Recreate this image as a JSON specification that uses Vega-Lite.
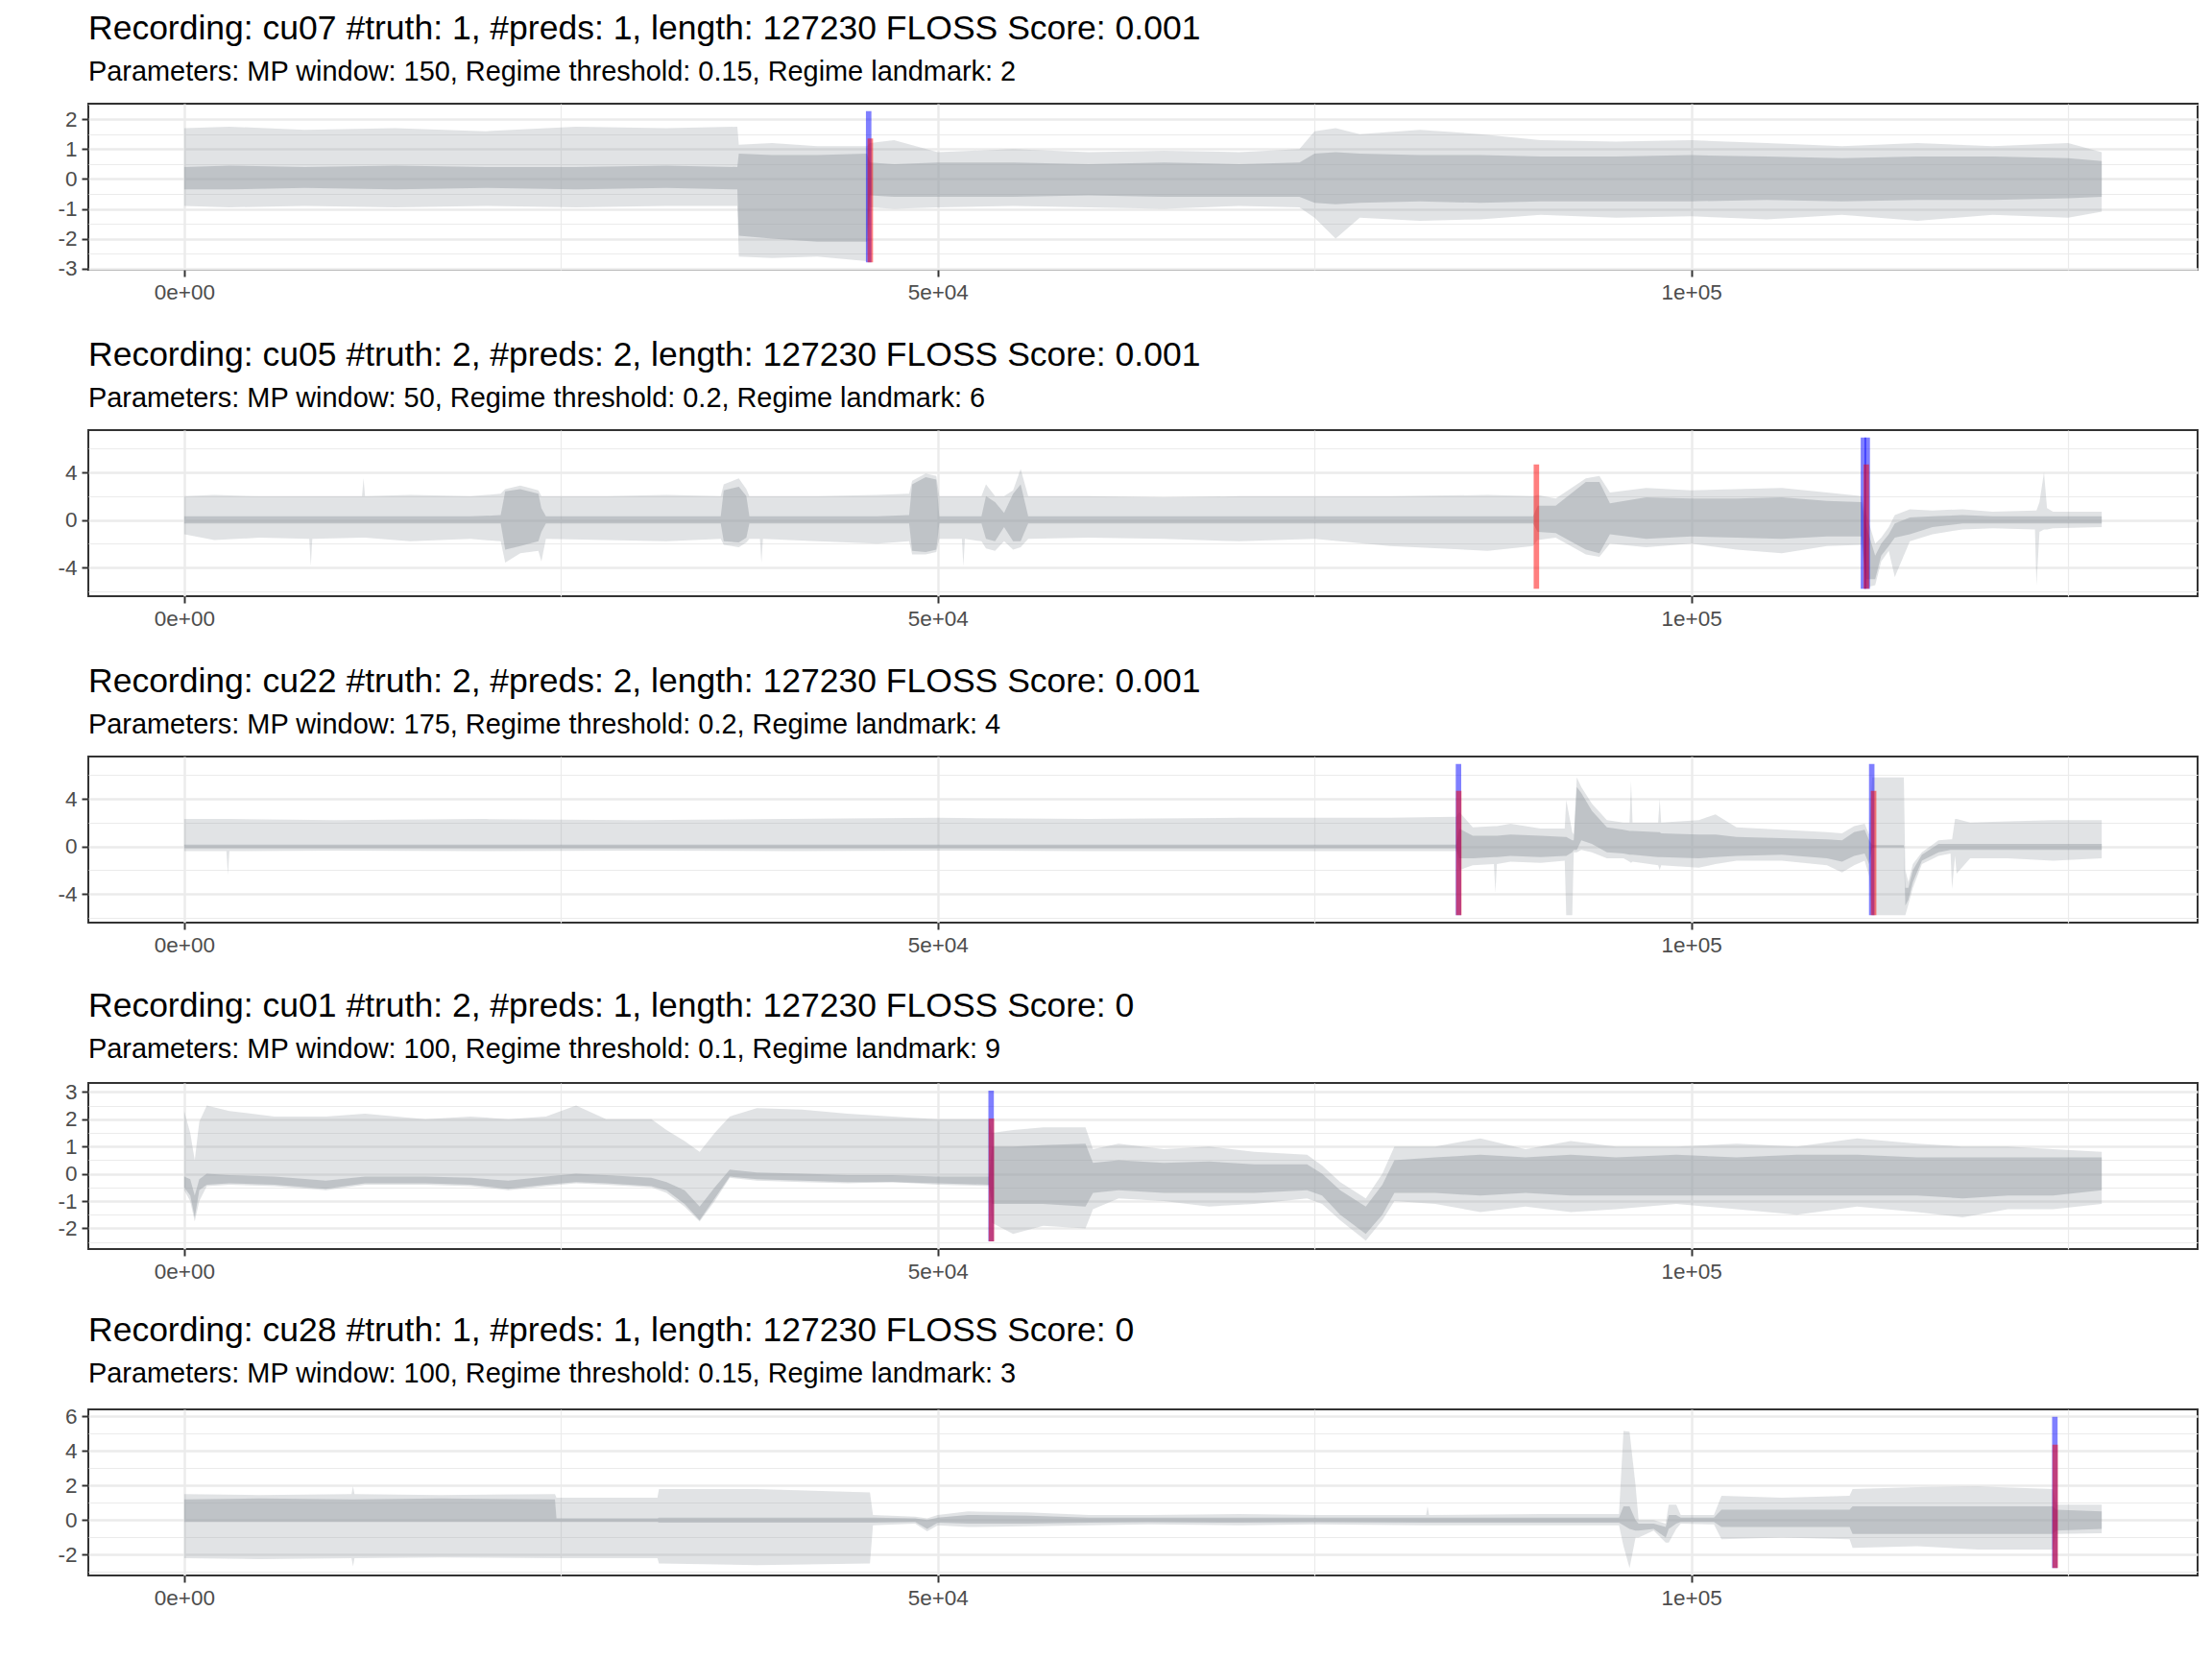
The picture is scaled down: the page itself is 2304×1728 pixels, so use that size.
{
"$schema": "https://vega.github.io/schema/vega-lite/v6.json",
"padding": {"left": 58, "top": 11, "right": 10, "bottom": 10},
"background": "white",
"bounds": "flush",
"spacing": 167,
"config": {
  "font": "Liberation Sans",
  "view": {"stroke": "#333333", "strokeWidth": 2},
  "axis": {"domain": false, "labelFont": "Liberation Sans", "labelFontSize": 22.5, "labelColor": "#4d4d4d", "tickColor": "#333333", "tickWidth": 2, "tickSize": 7, "labelPadding": 5, "gridColor": "#ebebeb", "gridWidth": 2.4, "titlePadding": 0, "labelOverlap": false, "labelBound": false, "labelFlush": false},
  "title": {"font": "Liberation Sans", "fontSize": 35.5, "fontWeight": "normal", "color": "#000000", "subtitleFont": "Liberation Sans", "subtitleFontSize": 28.9, "subtitleColor": "#000000", "anchor": "start", "frame": "group", "offset": 18, "subtitlePadding": 13}
},
"datasets": {
"sig": [
{"p":1,"x":0,"lo":-0.9,"hi":1.7,"blo":-0.35,"bhi":0.4},
{"p":1,"x":3000,"lo":-0.95,"hi":1.75,"blo":-0.35,"bhi":0.45},
{"p":1,"x":8000,"lo":-0.9,"hi":1.65,"blo":-0.3,"bhi":0.4},
{"p":1,"x":14000,"lo":-0.95,"hi":1.7,"blo":-0.35,"bhi":0.45},
{"p":1,"x":20000,"lo":-0.9,"hi":1.6,"blo":-0.3,"bhi":0.4},
{"p":1,"x":26000,"lo":-0.95,"hi":1.75,"blo":-0.35,"bhi":0.4},
{"p":1,"x":32000,"lo":-0.9,"hi":1.7,"blo":-0.3,"bhi":0.45},
{"p":1,"x":36700,"lo":-0.9,"hi":1.75,"blo":-0.35,"bhi":0.4},
{"p":1,"x":36800,"lo":-2.6,"hi":1.15,"blo":-1.9,"bhi":0.85},
{"p":1,"x":39000,"lo":-2.65,"hi":1.2,"blo":-2.0,"bhi":0.8},
{"p":1,"x":42000,"lo":-2.6,"hi":1.1,"blo":-2.1,"bhi":0.8},
{"p":1,"x":45300,"lo":-2.75,"hi":1.1,"blo":-2.1,"bhi":0.85},
{"p":1,"x":45500,"lo":-0.95,"hi":1.2,"blo":-0.55,"bhi":0.55},
{"p":1,"x":47100,"lo":-1.0,"hi":1.3,"blo":-0.6,"bhi":0.5},
{"p":1,"x":50000,"lo":-0.95,"hi":0.9,"blo":-0.6,"bhi":0.55},
{"p":1,"x":55000,"lo":-0.9,"hi":1.0,"blo":-0.6,"bhi":0.55},
{"p":1,"x":60000,"lo":-0.95,"hi":0.9,"blo":-0.55,"bhi":0.5},
{"p":1,"x":65000,"lo":-1.0,"hi":0.95,"blo":-0.6,"bhi":0.55},
{"p":1,"x":70000,"lo":-0.9,"hi":0.9,"blo":-0.6,"bhi":0.5},
{"p":1,"x":74000,"lo":-0.95,"hi":1.0,"blo":-0.6,"bhi":0.55},
{"p":1,"x":75000,"lo":-1.3,"hi":1.6,"blo":-0.8,"bhi":0.85},
{"p":1,"x":76400,"lo":-2.0,"hi":1.7,"blo":-0.85,"bhi":0.9},
{"p":1,"x":78000,"lo":-1.3,"hi":1.5,"blo":-0.8,"bhi":0.85},
{"p":1,"x":82000,"lo":-1.4,"hi":1.65,"blo":-0.75,"bhi":0.8},
{"p":1,"x":86000,"lo":-1.35,"hi":1.5,"blo":-0.8,"bhi":0.8},
{"p":1,"x":90000,"lo":-1.2,"hi":1.3,"blo":-0.75,"bhi":0.75},
{"p":1,"x":95000,"lo":-1.3,"hi":1.25,"blo":-0.75,"bhi":0.75},
{"p":1,"x":100000,"lo":-1.25,"hi":1.3,"blo":-0.75,"bhi":0.8},
{"p":1,"x":105000,"lo":-1.35,"hi":1.2,"blo":-0.7,"bhi":0.75},
{"p":1,"x":110000,"lo":-1.2,"hi":1.1,"blo":-0.75,"bhi":0.7},
{"p":1,"x":115000,"lo":-1.4,"hi":1.2,"blo":-0.7,"bhi":0.75},
{"p":1,"x":120000,"lo":-1.2,"hi":1.1,"blo":-0.7,"bhi":0.75},
{"p":1,"x":125000,"lo":-1.3,"hi":1.2,"blo":-0.65,"bhi":0.7},
{"p":1,"x":127230,"lo":-1.1,"hi":0.9,"blo":-0.6,"bhi":0.6},

{"p":2,"x":0,"lo":-1.2,"hi":2.0,"blo":-0.3,"bhi":0.3},
{"p":2,"x":2000,"lo":-1.7,"hi":2.1,"blo":-0.3,"bhi":0.3},
{"p":2,"x":5000,"lo":-1.5,"hi":2.0,"blo":-0.3,"bhi":0.3},
{"p":2,"x":8300,"lo":-1.6,"hi":2.0,"blo":-0.3,"bhi":0.3},
{"p":2,"x":8400,"lo":-3.9,"hi":2.0,"blo":-0.3,"bhi":0.3},
{"p":2,"x":8500,"lo":-1.6,"hi":2.0,"blo":-0.3,"bhi":0.3},
{"p":2,"x":11800,"lo":-1.5,"hi":2.0,"blo":-0.3,"bhi":0.3},
{"p":2,"x":11900,"lo":-1.5,"hi":3.5,"blo":-0.3,"bhi":0.3},
{"p":2,"x":12000,"lo":-1.5,"hi":2.0,"blo":-0.3,"bhi":0.3},
{"p":2,"x":15000,"lo":-1.8,"hi":2.1,"blo":-0.3,"bhi":0.3},
{"p":2,"x":19000,"lo":-1.6,"hi":2.0,"blo":-0.3,"bhi":0.3},
{"p":2,"x":21000,"lo":-1.8,"hi":2.2,"blo":-0.3,"bhi":0.4},
{"p":2,"x":21300,"lo":-3.6,"hi":2.6,"blo":-2.5,"bhi":2.4},
{"p":2,"x":22300,"lo":-2.8,"hi":2.9,"blo":-2.2,"bhi":2.6},
{"p":2,"x":23500,"lo":-2.6,"hi":2.5,"blo":-1.8,"bhi":2.2},
{"p":2,"x":23700,"lo":-3.5,"hi":2.0,"blo":-1.0,"bhi":1.0},
{"p":2,"x":24000,"lo":-1.6,"hi":2.0,"blo":-0.3,"bhi":0.3},
{"p":2,"x":28000,"lo":-1.7,"hi":2.0,"blo":-0.3,"bhi":0.3},
{"p":2,"x":32000,"lo":-1.8,"hi":2.1,"blo":-0.3,"bhi":0.3},
{"p":2,"x":35600,"lo":-1.6,"hi":2.0,"blo":-0.3,"bhi":0.3},
{"p":2,"x":35800,"lo":-2.1,"hi":3.0,"blo":-1.8,"bhi":2.5},
{"p":2,"x":36800,"lo":-2.3,"hi":3.5,"blo":-1.9,"bhi":2.8},
{"p":2,"x":37300,"lo":-1.9,"hi":2.6,"blo":-1.5,"bhi":2.0},
{"p":2,"x":37500,"lo":-1.6,"hi":2.0,"blo":-0.3,"bhi":0.3},
{"p":2,"x":38200,"lo":-1.6,"hi":2.0,"blo":-0.3,"bhi":0.3},
{"p":2,"x":38300,"lo":-3.6,"hi":2.0,"blo":-0.3,"bhi":0.3},
{"p":2,"x":38400,"lo":-1.6,"hi":2.0,"blo":-0.3,"bhi":0.3},
{"p":2,"x":42000,"lo":-1.8,"hi":2.0,"blo":-0.3,"bhi":0.3},
{"p":2,"x":46000,"lo":-2.0,"hi":2.1,"blo":-0.3,"bhi":0.3},
{"p":2,"x":48100,"lo":-1.8,"hi":2.2,"blo":-0.3,"bhi":0.4},
{"p":2,"x":48300,"lo":-2.9,"hi":3.3,"blo":-2.6,"bhi":3.0},
{"p":2,"x":49200,"lo":-2.9,"hi":3.9,"blo":-2.7,"bhi":3.6},
{"p":2,"x":49900,"lo":-2.7,"hi":3.7,"blo":-2.5,"bhi":3.4},
{"p":2,"x":50100,"lo":-1.6,"hi":2.0,"blo":-0.3,"bhi":0.3},
{"p":2,"x":51600,"lo":-1.6,"hi":2.0,"blo":-0.3,"bhi":0.3},
{"p":2,"x":51700,"lo":-3.9,"hi":2.0,"blo":-0.3,"bhi":0.3},
{"p":2,"x":51800,"lo":-1.6,"hi":2.0,"blo":-0.3,"bhi":0.3},
{"p":2,"x":52900,"lo":-1.8,"hi":2.0,"blo":-0.3,"bhi":0.3},
{"p":2,"x":53200,"lo":-2.4,"hi":3.0,"blo":-1.6,"bhi":2.0},
{"p":2,"x":53800,"lo":-2.6,"hi":2.0,"blo":-1.8,"bhi":1.5},
{"p":2,"x":54400,"lo":-1.8,"hi":2.0,"blo":-0.6,"bhi":0.6},
{"p":2,"x":55000,"lo":-2.5,"hi":2.5,"blo":-1.8,"bhi":2.2},
{"p":2,"x":55500,"lo":-2.3,"hi":4.3,"blo":-1.8,"bhi":3.0},
{"p":2,"x":56000,"lo":-1.6,"hi":2.0,"blo":-0.3,"bhi":0.3},
{"p":2,"x":60000,"lo":-1.5,"hi":2.0,"blo":-0.3,"bhi":0.3},
{"p":2,"x":65000,"lo":-1.6,"hi":1.9,"blo":-0.3,"bhi":0.3},
{"p":2,"x":70000,"lo":-1.8,"hi":2.0,"blo":-0.3,"bhi":0.3},
{"p":2,"x":75000,"lo":-1.6,"hi":2.0,"blo":-0.3,"bhi":0.3},
{"p":2,"x":80000,"lo":-2.2,"hi":2.0,"blo":-0.3,"bhi":0.3},
{"p":2,"x":86500,"lo":-2.6,"hi":2.1,"blo":-0.3,"bhi":0.3},
{"p":2,"x":89500,"lo":-2.2,"hi":2.0,"blo":-0.3,"bhi":0.3},
{"p":2,"x":89800,"lo":-1.7,"hi":2.1,"blo":-1.0,"bhi":1.2},
{"p":2,"x":91000,"lo":-1.5,"hi":1.8,"blo":-1.1,"bhi":1.2},
{"p":2,"x":93000,"lo":-2.9,"hi":3.5,"blo":-2.5,"bhi":3.2},
{"p":2,"x":93900,"lo":-3.1,"hi":3.7,"blo":-2.8,"bhi":3.2},
{"p":2,"x":94600,"lo":-2.0,"hi":2.3,"blo":-1.2,"bhi":1.4},
{"p":2,"x":97000,"lo":-2.3,"hi":2.7,"blo":-1.6,"bhi":1.9},
{"p":2,"x":100000,"lo":-2.0,"hi":2.5,"blo":-1.4,"bhi":1.8},
{"p":2,"x":103000,"lo":-2.5,"hi":2.6,"blo":-1.5,"bhi":1.8},
{"p":2,"x":106000,"lo":-2.8,"hi":2.7,"blo":-1.6,"bhi":1.9},
{"p":2,"x":109000,"lo":-2.2,"hi":2.3,"blo":-1.4,"bhi":1.6},
{"p":2,"x":111300,"lo":-2.1,"hi":2.0,"blo":-1.4,"bhi":1.5},
{"p":2,"x":111600,"lo":-5.7,"hi":0.5,"blo":-5.0,"bhi":-0.5},
{"p":2,"x":112200,"lo":-5.5,"hi":-2.0,"blo":-5.0,"bhi":-3.0},
{"p":2,"x":112600,"lo":-3.5,"hi":-1.5,"blo":-3.0,"bhi":-2.0},
{"p":2,"x":113100,"lo":-2.6,"hi":-0.6,"blo":-2.2,"bhi":-1.2},
{"p":2,"x":113500,"lo":-4.8,"hi":0.4,"blo":-1.5,"bhi":-0.3},
{"p":2,"x":114500,"lo":-1.8,"hi":0.9,"blo":-1.2,"bhi":0.2},
{"p":2,"x":116000,"lo":-1.2,"hi":0.8,"blo":-0.6,"bhi":0.3},
{"p":2,"x":118000,"lo":-0.8,"hi":0.9,"blo":-0.3,"bhi":0.4},
{"p":2,"x":120000,"lo":-0.7,"hi":0.7,"blo":-0.3,"bhi":0.3},
{"p":2,"x":122800,"lo":-0.8,"hi":0.8,"blo":-0.3,"bhi":0.3},
{"p":2,"x":122900,"lo":-5.5,"hi":0.8,"blo":-0.3,"bhi":0.3},
{"p":2,"x":123100,"lo":-1.0,"hi":1.5,"blo":-0.3,"bhi":0.3},
{"p":2,"x":123400,"lo":-0.8,"hi":4.0,"blo":-0.3,"bhi":0.3},
{"p":2,"x":123600,"lo":-0.8,"hi":1.0,"blo":-0.3,"bhi":0.3},
{"p":2,"x":124000,"lo":-0.7,"hi":0.7,"blo":-0.3,"bhi":0.3},
{"p":2,"x":127230,"lo":-0.6,"hi":0.7,"blo":-0.3,"bhi":0.3},

{"p":3,"x":0,"lo":-0.4,"hi":2.3,"blo":-0.15,"bhi":0.15},
{"p":3,"x":2800,"lo":-0.4,"hi":2.3,"blo":-0.15,"bhi":0.15},
{"p":3,"x":2900,"lo":-2.4,"hi":2.3,"blo":-0.15,"bhi":0.15},
{"p":3,"x":3000,"lo":-0.4,"hi":2.3,"blo":-0.15,"bhi":0.15},
{"p":3,"x":10000,"lo":-0.35,"hi":2.2,"blo":-0.15,"bhi":0.15},
{"p":3,"x":20000,"lo":-0.4,"hi":2.3,"blo":-0.15,"bhi":0.15},
{"p":3,"x":30000,"lo":-0.35,"hi":2.2,"blo":-0.15,"bhi":0.15},
{"p":3,"x":40000,"lo":-0.4,"hi":2.3,"blo":-0.15,"bhi":0.15},
{"p":3,"x":50000,"lo":-0.35,"hi":2.4,"blo":-0.15,"bhi":0.15},
{"p":3,"x":60000,"lo":-0.4,"hi":2.3,"blo":-0.15,"bhi":0.15},
{"p":3,"x":70000,"lo":-0.4,"hi":2.4,"blo":-0.15,"bhi":0.15},
{"p":3,"x":80000,"lo":-0.4,"hi":2.4,"blo":-0.15,"bhi":0.15},
{"p":3,"x":84400,"lo":-0.4,"hi":2.5,"blo":-0.15,"bhi":0.15},
{"p":3,"x":84600,"lo":-2.0,"hi":2.9,"blo":-1.0,"bhi":1.5},
{"p":3,"x":85500,"lo":-1.6,"hi":1.6,"blo":-1.0,"bhi":0.9},
{"p":3,"x":86900,"lo":-1.5,"hi":1.7,"blo":-0.9,"bhi":0.9},
{"p":3,"x":87000,"lo":-3.9,"hi":1.7,"blo":-0.9,"bhi":0.9},
{"p":3,"x":87100,"lo":-1.5,"hi":1.7,"blo":-0.9,"bhi":0.9},
{"p":3,"x":88000,"lo":-1.3,"hi":1.9,"blo":-0.8,"bhi":1.0},
{"p":3,"x":90000,"lo":-1.4,"hi":1.5,"blo":-0.9,"bhi":0.9},
{"p":3,"x":91600,"lo":-1.2,"hi":1.5,"blo":-0.8,"bhi":0.8},
{"p":3,"x":91700,"lo":-5.8,"hi":3.9,"blo":-0.8,"bhi":0.8},
{"p":3,"x":92100,"lo":-5.8,"hi":1.2,"blo":-0.5,"bhi":0.5},
{"p":3,"x":92200,"lo":-0.5,"hi":1.0,"blo":-0.3,"bhi":0.5},
{"p":3,"x":92400,"lo":-0.5,"hi":5.8,"blo":-0.3,"bhi":5.0},
{"p":3,"x":92700,"lo":-0.3,"hi":5.0,"blo":0.5,"bhi":4.5},
{"p":3,"x":93400,"lo":-0.5,"hi":3.6,"blo":0.2,"bhi":3.0},
{"p":3,"x":94400,"lo":-1.0,"hi":2.2,"blo":-0.5,"bhi":1.6},
{"p":3,"x":95500,"lo":-1.0,"hi":2.0,"blo":-0.6,"bhi":1.4},
{"p":3,"x":95900,"lo":-1.3,"hi":2.0,"blo":-0.7,"bhi":1.3},
{"p":3,"x":96000,"lo":-1.4,"hi":5.5,"blo":-0.7,"bhi":1.3},
{"p":3,"x":96100,"lo":-1.3,"hi":2.0,"blo":-0.7,"bhi":1.3},
{"p":3,"x":97800,"lo":-1.6,"hi":2.0,"blo":-0.9,"bhi":1.2},
{"p":3,"x":97900,"lo":-2.0,"hi":4.0,"blo":-0.9,"bhi":1.2},
{"p":3,"x":98000,"lo":-1.6,"hi":2.0,"blo":-0.9,"bhi":1.1},
{"p":3,"x":100500,"lo":-1.8,"hi":2.2,"blo":-1.0,"bhi":1.0},
{"p":3,"x":101600,"lo":-1.5,"hi":2.7,"blo":-0.9,"bhi":1.0},
{"p":3,"x":103000,"lo":-1.2,"hi":1.6,"blo":-0.8,"bhi":0.8},
{"p":3,"x":106000,"lo":-1.2,"hi":1.4,"blo":-0.7,"bhi":0.7},
{"p":3,"x":109000,"lo":-1.6,"hi":1.2,"blo":-1.0,"bhi":0.6},
{"p":3,"x":110000,"lo":-2.2,"hi":1.1,"blo":-1.3,"bhi":0.5},
{"p":3,"x":110800,"lo":-1.6,"hi":1.7,"blo":-0.8,"bhi":1.2},
{"p":3,"x":111500,"lo":-1.2,"hi":1.9,"blo":-0.6,"bhi":1.4},
{"p":3,"x":111800,"lo":-2.5,"hi":1.0,"blo":-1.5,"bhi":0.5},
{"p":3,"x":112000,"lo":-5.8,"hi":5.8,"blo":-0.1,"bhi":0.1},
{"p":3,"x":114100,"lo":-5.8,"hi":5.8,"blo":-0.1,"bhi":0.1},
{"p":3,"x":114200,"lo":-5.8,"hi":-2.0,"blo":-5.0,"bhi":-3.5},
{"p":3,"x":114400,"lo":-4.9,"hi":-3.0,"blo":-4.5,"bhi":-3.5},
{"p":3,"x":114700,"lo":-3.5,"hi":-1.5,"blo":-3.0,"bhi":-2.0},
{"p":3,"x":115300,"lo":-1.5,"hi":-0.5,"blo":-1.2,"bhi":-0.7},
{"p":3,"x":116400,"lo":-0.8,"hi":0.5,"blo":-0.5,"bhi":0.2},
{"p":3,"x":117200,"lo":-0.6,"hi":0.6,"blo":-0.3,"bhi":0.2},
{"p":3,"x":117300,"lo":-3.6,"hi":0.6,"blo":-0.3,"bhi":0.2},
{"p":3,"x":117500,"lo":-0.8,"hi":2.3,"blo":-0.3,"bhi":0.2},
{"p":3,"x":117600,"lo":-2.3,"hi":2.3,"blo":-0.3,"bhi":0.2},
{"p":3,"x":118500,"lo":-1.0,"hi":2.0,"blo":-0.3,"bhi":0.2},
{"p":3,"x":121000,"lo":-1.0,"hi":2.1,"blo":-0.3,"bhi":0.2},
{"p":3,"x":124000,"lo":-1.2,"hi":2.2,"blo":-0.3,"bhi":0.2},
{"p":3,"x":127230,"lo":-1.0,"hi":2.2,"blo":-0.3,"bhi":0.2},

{"p":4,"x":0,"lo":-0.6,"hi":2.3,"blo":-0.5,"bhi":-0.1},
{"p":4,"x":400,"lo":-1.0,"hi":1.5,"blo":-0.8,"bhi":-0.2},
{"p":4,"x":700,"lo":-1.75,"hi":0.5,"blo":-1.6,"bhi":-0.8},
{"p":4,"x":1000,"lo":-1.0,"hi":1.9,"blo":-0.6,"bhi":-0.2},
{"p":4,"x":1500,"lo":-0.45,"hi":2.5,"blo":-0.4,"bhi":0.0},
{"p":4,"x":3000,"lo":-0.4,"hi":2.3,"blo":-0.35,"bhi":-0.05},
{"p":4,"x":6000,"lo":-0.45,"hi":2.1,"blo":-0.4,"bhi":-0.1},
{"p":4,"x":9400,"lo":-0.6,"hi":2.1,"blo":-0.55,"bhi":-0.25},
{"p":4,"x":12000,"lo":-0.4,"hi":2.2,"blo":-0.35,"bhi":-0.1},
{"p":4,"x":16000,"lo":-0.4,"hi":2.0,"blo":-0.35,"bhi":-0.1},
{"p":4,"x":19000,"lo":-0.45,"hi":2.1,"blo":-0.4,"bhi":-0.15},
{"p":4,"x":21500,"lo":-0.6,"hi":2.0,"blo":-0.55,"bhi":-0.25},
{"p":4,"x":24000,"lo":-0.45,"hi":2.1,"blo":-0.4,"bhi":-0.1},
{"p":4,"x":26000,"lo":-0.35,"hi":2.5,"blo":-0.3,"bhi":0.0},
{"p":4,"x":28000,"lo":-0.4,"hi":2.0,"blo":-0.35,"bhi":-0.05},
{"p":4,"x":31000,"lo":-0.5,"hi":2.0,"blo":-0.45,"bhi":-0.15},
{"p":4,"x":32000,"lo":-0.7,"hi":1.6,"blo":-0.6,"bhi":-0.3},
{"p":4,"x":33200,"lo":-1.2,"hi":1.2,"blo":-1.1,"bhi":-0.6},
{"p":4,"x":34200,"lo":-1.75,"hi":0.8,"blo":-1.7,"bhi":-1.2},
{"p":4,"x":35200,"lo":-1.0,"hi":1.5,"blo":-0.9,"bhi":-0.5},
{"p":4,"x":36200,"lo":-0.15,"hi":2.1,"blo":-0.1,"bhi":0.15},
{"p":4,"x":38000,"lo":-0.25,"hi":2.4,"blo":-0.2,"bhi":0.05},
{"p":4,"x":41000,"lo":-0.3,"hi":2.35,"blo":-0.25,"bhi":0.0},
{"p":4,"x":44000,"lo":-0.35,"hi":2.2,"blo":-0.3,"bhi":-0.05},
{"p":4,"x":47000,"lo":-0.3,"hi":2.1,"blo":-0.3,"bhi":-0.05},
{"p":4,"x":50000,"lo":-0.4,"hi":2.0,"blo":-0.35,"bhi":-0.1},
{"p":4,"x":53400,"lo":-0.45,"hi":2.0,"blo":-0.4,"bhi":-0.1},
{"p":4,"x":53600,"lo":-1.8,"hi":1.5,"blo":-1.1,"bhi":1.0},
{"p":4,"x":55000,"lo":-2.2,"hi":1.6,"blo":-1.1,"bhi":1.0},
{"p":4,"x":57000,"lo":-1.9,"hi":1.7,"blo":-1.1,"bhi":1.05},
{"p":4,"x":59800,"lo":-2.0,"hi":1.7,"blo":-1.2,"bhi":1.1},
{"p":4,"x":60300,"lo":-1.3,"hi":0.9,"blo":-0.7,"bhi":0.4},
{"p":4,"x":62000,"lo":-0.9,"hi":1.1,"blo":-0.6,"bhi":0.5},
{"p":4,"x":65000,"lo":-1.0,"hi":0.9,"blo":-0.7,"bhi":0.4},
{"p":4,"x":68000,"lo":-1.2,"hi":1.0,"blo":-0.7,"bhi":0.45},
{"p":4,"x":71000,"lo":-1.1,"hi":0.8,"blo":-0.7,"bhi":0.35},
{"p":4,"x":74500,"lo":-0.9,"hi":0.7,"blo":-0.6,"bhi":0.35},
{"p":4,"x":75500,"lo":-1.1,"hi":0.3,"blo":-0.8,"bhi":0.0},
{"p":4,"x":76700,"lo":-1.7,"hi":-0.3,"blo":-1.5,"bhi":-0.6},
{"p":4,"x":78400,"lo":-2.45,"hi":-0.9,"blo":-2.2,"bhi":-1.2},
{"p":4,"x":79500,"lo":-1.7,"hi":0.0,"blo":-1.5,"bhi":-0.4},
{"p":4,"x":80300,"lo":-1.0,"hi":1.0,"blo":-0.7,"bhi":0.5},
{"p":4,"x":83000,"lo":-1.1,"hi":1.0,"blo":-0.7,"bhi":0.6},
{"p":4,"x":86000,"lo":-1.4,"hi":1.3,"blo":-0.8,"bhi":0.7},
{"p":4,"x":89000,"lo":-1.2,"hi":0.9,"blo":-0.7,"bhi":0.6},
{"p":4,"x":92000,"lo":-1.4,"hi":1.2,"blo":-0.8,"bhi":0.7},
{"p":4,"x":95000,"lo":-1.3,"hi":1.0,"blo":-0.8,"bhi":0.6},
{"p":4,"x":99000,"lo":-1.1,"hi":1.0,"blo":-0.8,"bhi":0.7},
{"p":4,"x":103000,"lo":-1.3,"hi":1.1,"blo":-0.8,"bhi":0.6},
{"p":4,"x":107000,"lo":-1.5,"hi":1.0,"blo":-0.8,"bhi":0.7},
{"p":4,"x":111000,"lo":-1.2,"hi":1.3,"blo":-0.8,"bhi":0.7},
{"p":4,"x":115000,"lo":-1.4,"hi":1.1,"blo":-0.8,"bhi":0.6},
{"p":4,"x":118000,"lo":-1.6,"hi":1.0,"blo":-0.9,"bhi":0.6},
{"p":4,"x":121000,"lo":-1.3,"hi":1.0,"blo":-0.8,"bhi":0.6},
{"p":4,"x":124000,"lo":-1.3,"hi":0.9,"blo":-0.8,"bhi":0.6},
{"p":4,"x":127230,"lo":-1.1,"hi":0.8,"blo":-0.6,"bhi":0.6},

{"p":5,"x":0,"lo":-2.2,"hi":1.5,"blo":-0.1,"bhi":1.2},
{"p":5,"x":5000,"lo":-2.25,"hi":1.45,"blo":-0.1,"bhi":1.25},
{"p":5,"x":11100,"lo":-2.2,"hi":1.5,"blo":-0.1,"bhi":1.2},
{"p":5,"x":11200,"lo":-2.67,"hi":1.96,"blo":-0.1,"bhi":1.2},
{"p":5,"x":11300,"lo":-2.2,"hi":1.5,"blo":-0.1,"bhi":1.2},
{"p":5,"x":17000,"lo":-2.15,"hi":1.45,"blo":-0.1,"bhi":1.25},
{"p":5,"x":24600,"lo":-2.2,"hi":1.5,"blo":-0.1,"bhi":1.2},
{"p":5,"x":24700,"lo":-2.2,"hi":1.3,"blo":-0.1,"bhi":0.1},
{"p":5,"x":28000,"lo":-2.2,"hi":1.3,"blo":-0.1,"bhi":0.1},
{"p":5,"x":31400,"lo":-2.2,"hi":1.3,"blo":-0.1,"bhi":0.1},
{"p":5,"x":31500,"lo":-2.5,"hi":1.8,"blo":-0.15,"bhi":0.15},
{"p":5,"x":38000,"lo":-2.6,"hi":1.8,"blo":-0.15,"bhi":0.15},
{"p":5,"x":45500,"lo":-2.5,"hi":1.6,"blo":-0.15,"bhi":0.15},
{"p":5,"x":45700,"lo":-0.3,"hi":0.3,"blo":-0.15,"bhi":0.15},
{"p":5,"x":48500,"lo":-0.2,"hi":0.2,"blo":-0.1,"bhi":0.1},
{"p":5,"x":49300,"lo":-0.65,"hi":0.1,"blo":-0.5,"bhi":0.0},
{"p":5,"x":50000,"lo":-0.3,"hi":0.3,"blo":-0.15,"bhi":0.15},
{"p":5,"x":52000,"lo":-0.4,"hi":0.5,"blo":-0.2,"bhi":0.3},
{"p":5,"x":56000,"lo":-0.35,"hi":0.45,"blo":-0.2,"bhi":0.25},
{"p":5,"x":60000,"lo":-0.3,"hi":0.3,"blo":-0.15,"bhi":0.15},
{"p":5,"x":64000,"lo":-0.25,"hi":0.3,"blo":-0.12,"bhi":0.15},
{"p":5,"x":70000,"lo":-0.3,"hi":0.35,"blo":-0.15,"bhi":0.15},
{"p":5,"x":75000,"lo":-0.25,"hi":0.3,"blo":-0.12,"bhi":0.15},
{"p":5,"x":82400,"lo":-0.3,"hi":0.3,"blo":-0.15,"bhi":0.15},
{"p":5,"x":82500,"lo":-0.3,"hi":0.8,"blo":-0.15,"bhi":0.15},
{"p":5,"x":82600,"lo":-0.3,"hi":0.3,"blo":-0.15,"bhi":0.15},
{"p":5,"x":90000,"lo":-0.3,"hi":0.35,"blo":-0.15,"bhi":0.15},
{"p":5,"x":95200,"lo":-0.3,"hi":0.35,"blo":-0.15,"bhi":0.15},
{"p":5,"x":95500,"lo":-1.5,"hi":5.15,"blo":-0.3,"bhi":0.8},
{"p":5,"x":95900,"lo":-2.76,"hi":5.1,"blo":-0.5,"bhi":0.8},
{"p":5,"x":96300,"lo":-1.0,"hi":2.0,"blo":-0.6,"bhi":0.0},
{"p":5,"x":96500,"lo":-1.0,"hi":0.0,"blo":-0.6,"bhi":-0.2},
{"p":5,"x":97500,"lo":-0.6,"hi":0.0,"blo":-0.5,"bhi":-0.2},
{"p":5,"x":98300,"lo":-1.3,"hi":-0.2,"blo":-1.0,"bhi":-0.4},
{"p":5,"x":98500,"lo":-1.3,"hi":0.9,"blo":-0.5,"bhi":0.3},
{"p":5,"x":99000,"lo":-0.5,"hi":0.9,"blo":-0.2,"bhi":0.3},
{"p":5,"x":99300,"lo":-0.2,"hi":0.3,"blo":-0.1,"bhi":0.15},
{"p":5,"x":101500,"lo":-0.25,"hi":0.3,"blo":-0.1,"bhi":0.15},
{"p":5,"x":102000,"lo":-1.1,"hi":1.4,"blo":-0.4,"bhi":0.6},
{"p":5,"x":106000,"lo":-1.0,"hi":1.3,"blo":-0.4,"bhi":0.6},
{"p":5,"x":110500,"lo":-1.1,"hi":1.4,"blo":-0.4,"bhi":0.6},
{"p":5,"x":110700,"lo":-1.6,"hi":1.8,"blo":-0.8,"bhi":0.8},
{"p":5,"x":115000,"lo":-1.5,"hi":1.9,"blo":-0.8,"bhi":0.8},
{"p":5,"x":119000,"lo":-1.7,"hi":1.95,"blo":-0.8,"bhi":0.8},
{"p":5,"x":124000,"lo":-1.7,"hi":1.8,"blo":-0.8,"bhi":0.8},
{"p":5,"x":124200,"lo":-0.8,"hi":0.9,"blo":-0.6,"bhi":0.6},
{"p":5,"x":127230,"lo":-0.75,"hi":0.9,"blo":-0.5,"bhi":0.5}
],
"ev": [
{"p":1,"kind":"truth","x":45415,"y0":-2.79,"y1":2.27},
{"p":1,"kind":"pred","x":45523,"y0":-2.79,"y1":1.36},
{"p":2,"kind":"truth","x":111420,"y0":-5.79,"y1":6.93},
{"p":2,"kind":"truth","x":111670,"y0":-5.79,"y1":6.93},
{"p":2,"kind":"pred","x":89720,"y0":-5.79,"y1":4.67},
{"p":2,"kind":"pred","x":111610,"y0":-5.79,"y1":4.67},
{"p":3,"kind":"truth","x":84550,"y0":-5.79,"y1":6.93},
{"p":3,"kind":"truth","x":111970,"y0":-5.79,"y1":6.93},
{"p":3,"kind":"pred","x":84570,"y0":-5.79,"y1":4.67},
{"p":3,"kind":"pred","x":112095,"y0":-5.79,"y1":4.67},
{"p":4,"kind":"truth","x":53540,"y0":-2.48,"y1":3.05},
{"p":4,"kind":"pred","x":53560,"y0":-2.48,"y1":2.03},
{"p":5,"kind":"truth","x":124120,"y0":-2.76,"y1":5.96},
{"p":5,"kind":"pred","x":124140,"y0":-2.76,"y1":4.36}
]
},
"vconcat": [
{
 "width": 2197, "height": 173,
 "title": {"text": "Recording: cu07 #truth: 1, #preds: 1, length: 127230 FLOSS Score: 0.001", "subtitle": "Parameters: MP window: 150, Regime threshold: 0.15, Regime landmark: 2"},
 "resolve": {"axis": {"x": "independent", "y": "independent"}},
 "layer": [
  {"data": {"name": "sig"}, "transform": [{"filter": "datum.p == 1"}],
   "mark": {"type": "area", "color": "#939ba2", "opacity": 0.28},
   "encoding": {
    "x": {"field": "x", "type": "quantitative", "scale": {"domain": [-6361.5, 133591.5], "nice": false, "zero": false},
          "axis": {"title": null, "orient": "bottom", "values": [0, 50000, 100000], "labelExpr": "datum.value == 0 ? '0e+00' : datum.value == 50000 ? '5e+04' : '1e+05'"}},
    "y": {"field": "lo", "type": "quantitative", "scale": {"domain": [-3.043, 2.523], "nice": false, "zero": false},
          "axis": {"title": null, "orient": "left", "values": [-3, -2, -1, 0, 1, 2], "labelExpr": "toString(datum.value)"}},
    "y2": {"field": "hi"}
   }},
  {"data": {"name": "sig"}, "transform": [{"filter": "datum.p == 1"}],
   "mark": {"type": "area", "color": "#939ba2", "opacity": 0.44},
   "encoding": {
    "x": {"field": "x", "type": "quantitative", "axis": {"title": null, "orient": "top", "values": [25000, 75000, 125000], "labels": false, "ticks": false, "domain": false, "grid": true, "gridWidth": 1.2}},
    "y": {"field": "blo", "type": "quantitative", "axis": {"title": null, "orient": "right", "values": [-2.5, -1.5, -0.5, 0.5, 1.5, 2.5], "labels": false, "ticks": false, "domain": false, "grid": true, "gridWidth": 1.2}},
    "y2": {"field": "bhi"}}},
  {"data": {"name": "ev"}, "transform": [{"filter": "datum.p == 1"}],
   "mark": {"type": "rule", "strokeWidth": 5.7, "opacity": 0.5, "strokeCap": "butt"},
   "encoding": {"x": {"field": "x", "type": "quantitative", "axis": null}, "y": {"field": "y0", "type": "quantitative", "axis": null}, "y2": {"field": "y1"},
     "color": {"field": "kind", "type": "nominal", "scale": {"domain": ["truth", "pred"], "range": ["#0000ff", "#ff0000"]}, "legend": null}}}
 ]
},
{
 "width": 2197, "height": 173,
 "title": {"text": "Recording: cu05 #truth: 2, #preds: 2, length: 127230 FLOSS Score: 0.001", "subtitle": "Parameters: MP window: 50, Regime threshold: 0.2, Regime landmark: 6"},
 "resolve": {"axis": {"x": "independent", "y": "independent"}},
 "layer": [
  {"data": {"name": "sig"}, "transform": [{"filter": "datum.p == 2"}],
   "mark": {"type": "area", "color": "#939ba2", "opacity": 0.28},
   "encoding": {
    "x": {"field": "x", "type": "quantitative", "scale": {"domain": [-6361.5, 133591.5], "nice": false, "zero": false},
          "axis": {"title": null, "orient": "bottom", "values": [0, 50000, 100000], "labelExpr": "datum.value == 0 ? '0e+00' : datum.value == 50000 ? '5e+04' : '1e+05'"}},
    "y": {"field": "lo", "type": "quantitative", "scale": {"domain": [-6.426, 7.566], "nice": false, "zero": false},
          "axis": {"title": null, "orient": "left", "values": [-4, 0, 4], "labelExpr": "toString(datum.value)"}},
    "y2": {"field": "hi"}
   }},
  {"data": {"name": "sig"}, "transform": [{"filter": "datum.p == 2"}],
   "mark": {"type": "area", "color": "#939ba2", "opacity": 0.44},
   "encoding": {
    "x": {"field": "x", "type": "quantitative", "axis": {"title": null, "orient": "top", "values": [25000, 75000, 125000], "labels": false, "ticks": false, "domain": false, "grid": true, "gridWidth": 1.2}},
    "y": {"field": "blo", "type": "quantitative", "axis": {"title": null, "orient": "right", "values": [-6, -2, 2, 6], "labels": false, "ticks": false, "domain": false, "grid": true, "gridWidth": 1.2}},
    "y2": {"field": "bhi"}}},
  {"data": {"name": "ev"}, "transform": [{"filter": "datum.p == 2"}],
   "mark": {"type": "rule", "strokeWidth": 5.7, "opacity": 0.5, "strokeCap": "butt"},
   "encoding": {"x": {"field": "x", "type": "quantitative", "axis": null}, "y": {"field": "y0", "type": "quantitative", "axis": null}, "y2": {"field": "y1"},
     "color": {"field": "kind", "type": "nominal", "scale": {"domain": ["truth", "pred"], "range": ["#0000ff", "#ff0000"]}, "legend": null}}}
 ]
},
{
 "width": 2197, "height": 173,
 "title": {"text": "Recording: cu22 #truth: 2, #preds: 2, length: 127230 FLOSS Score: 0.001", "subtitle": "Parameters: MP window: 175, Regime threshold: 0.2, Regime landmark: 4"},
 "resolve": {"axis": {"x": "independent", "y": "independent"}},
 "layer": [
  {"data": {"name": "sig"}, "transform": [{"filter": "datum.p == 3"}],
   "mark": {"type": "area", "color": "#939ba2", "opacity": 0.28},
   "encoding": {
    "x": {"field": "x", "type": "quantitative", "scale": {"domain": [-6361.5, 133591.5], "nice": false, "zero": false},
          "axis": {"title": null, "orient": "bottom", "values": [0, 50000, 100000], "labelExpr": "datum.value == 0 ? '0e+00' : datum.value == 50000 ? '5e+04' : '1e+05'"}},
    "y": {"field": "lo", "type": "quantitative", "scale": {"domain": [-6.426, 7.566], "nice": false, "zero": false},
          "axis": {"title": null, "orient": "left", "values": [-4, 0, 4], "labelExpr": "toString(datum.value)"}},
    "y2": {"field": "hi"}
   }},
  {"data": {"name": "sig"}, "transform": [{"filter": "datum.p == 3"}],
   "mark": {"type": "area", "color": "#939ba2", "opacity": 0.44},
   "encoding": {
    "x": {"field": "x", "type": "quantitative", "axis": {"title": null, "orient": "top", "values": [25000, 75000, 125000], "labels": false, "ticks": false, "domain": false, "grid": true, "gridWidth": 1.2}},
    "y": {"field": "blo", "type": "quantitative", "axis": {"title": null, "orient": "right", "values": [-6, -2, 2, 6], "labels": false, "ticks": false, "domain": false, "grid": true, "gridWidth": 1.2}},
    "y2": {"field": "bhi"}}},
  {"data": {"name": "ev"}, "transform": [{"filter": "datum.p == 3"}],
   "mark": {"type": "rule", "strokeWidth": 5.7, "opacity": 0.5, "strokeCap": "butt"},
   "encoding": {"x": {"field": "x", "type": "quantitative", "axis": null}, "y": {"field": "y0", "type": "quantitative", "axis": null}, "y2": {"field": "y1"},
     "color": {"field": "kind", "type": "nominal", "scale": {"domain": ["truth", "pred"], "range": ["#0000ff", "#ff0000"]}, "legend": null}}}
 ]
},
{
 "width": 2197, "height": 173,
 "title": {"text": "Recording: cu01 #truth: 2, #preds: 1, length: 127230 FLOSS Score: 0", "subtitle": "Parameters: MP window: 100, Regime threshold: 0.1, Regime landmark: 9"},
 "resolve": {"axis": {"x": "independent", "y": "independent"}},
 "layer": [
  {"data": {"name": "sig"}, "transform": [{"filter": "datum.p == 4"}],
   "mark": {"type": "area", "color": "#939ba2", "opacity": 0.28},
   "encoding": {
    "x": {"field": "x", "type": "quantitative", "scale": {"domain": [-6361.5, 133591.5], "nice": false, "zero": false},
          "axis": {"title": null, "orient": "bottom", "values": [0, 50000, 100000], "labelExpr": "datum.value == 0 ? '0e+00' : datum.value == 50000 ? '5e+04' : '1e+05'"}},
    "y": {"field": "lo", "type": "quantitative", "scale": {"domain": [-2.757, 3.327], "nice": false, "zero": false},
          "axis": {"title": null, "orient": "left", "values": [-2, -1, 0, 1, 2, 3], "labelExpr": "toString(datum.value)"}},
    "y2": {"field": "hi"}
   }},
  {"data": {"name": "sig"}, "transform": [{"filter": "datum.p == 4"}],
   "mark": {"type": "area", "color": "#939ba2", "opacity": 0.44},
   "encoding": {
    "x": {"field": "x", "type": "quantitative", "axis": {"title": null, "orient": "top", "values": [25000, 75000, 125000], "labels": false, "ticks": false, "domain": false, "grid": true, "gridWidth": 1.2}},
    "y": {"field": "blo", "type": "quantitative", "axis": {"title": null, "orient": "right", "values": [-2.5, -1.5, -0.5, 0.5, 1.5, 2.5], "labels": false, "ticks": false, "domain": false, "grid": true, "gridWidth": 1.2}},
    "y2": {"field": "bhi"}}},
  {"data": {"name": "ev"}, "transform": [{"filter": "datum.p == 4"}],
   "mark": {"type": "rule", "strokeWidth": 5.7, "opacity": 0.5, "strokeCap": "butt"},
   "encoding": {"x": {"field": "x", "type": "quantitative", "axis": null}, "y": {"field": "y0", "type": "quantitative", "axis": null}, "y2": {"field": "y1"},
     "color": {"field": "kind", "type": "nominal", "scale": {"domain": ["truth", "pred"], "range": ["#0000ff", "#ff0000"]}, "legend": null}}}
 ]
},
{
 "width": 2197, "height": 173,
 "title": {"text": "Recording: cu28 #truth: 1, #preds: 1, length: 127230 FLOSS Score: 0", "subtitle": "Parameters: MP window: 100, Regime threshold: 0.15, Regime landmark: 3"},
 "resolve": {"axis": {"x": "independent", "y": "independent"}},
 "layer": [
  {"data": {"name": "sig"}, "transform": [{"filter": "datum.p == 5"}],
   "mark": {"type": "area", "color": "#939ba2", "opacity": 0.28},
   "encoding": {
    "x": {"field": "x", "type": "quantitative", "scale": {"domain": [-6361.5, 133591.5], "nice": false, "zero": false},
          "axis": {"title": null, "orient": "bottom", "values": [0, 50000, 100000], "labelExpr": "datum.value == 0 ? '0e+00' : datum.value == 50000 ? '5e+04' : '1e+05'"}},
    "y": {"field": "lo", "type": "quantitative", "scale": {"domain": [-3.196, 6.396], "nice": false, "zero": false},
          "axis": {"title": null, "orient": "left", "values": [-2, 0, 2, 4, 6], "labelExpr": "toString(datum.value)"}},
    "y2": {"field": "hi"}
   }},
  {"data": {"name": "sig"}, "transform": [{"filter": "datum.p == 5"}],
   "mark": {"type": "area", "color": "#939ba2", "opacity": 0.44},
   "encoding": {
    "x": {"field": "x", "type": "quantitative", "axis": {"title": null, "orient": "top", "values": [25000, 75000, 125000], "labels": false, "ticks": false, "domain": false, "grid": true, "gridWidth": 1.2}},
    "y": {"field": "blo", "type": "quantitative", "axis": {"title": null, "orient": "right", "values": [-3, -1, 1, 3, 5], "labels": false, "ticks": false, "domain": false, "grid": true, "gridWidth": 1.2}},
    "y2": {"field": "bhi"}}},
  {"data": {"name": "ev"}, "transform": [{"filter": "datum.p == 5"}],
   "mark": {"type": "rule", "strokeWidth": 5.7, "opacity": 0.5, "strokeCap": "butt"},
   "encoding": {"x": {"field": "x", "type": "quantitative", "axis": null}, "y": {"field": "y0", "type": "quantitative", "axis": null}, "y2": {"field": "y1"},
     "color": {"field": "kind", "type": "nominal", "scale": {"domain": ["truth", "pred"], "range": ["#0000ff", "#ff0000"]}, "legend": null}}}
 ]
}
]
}
